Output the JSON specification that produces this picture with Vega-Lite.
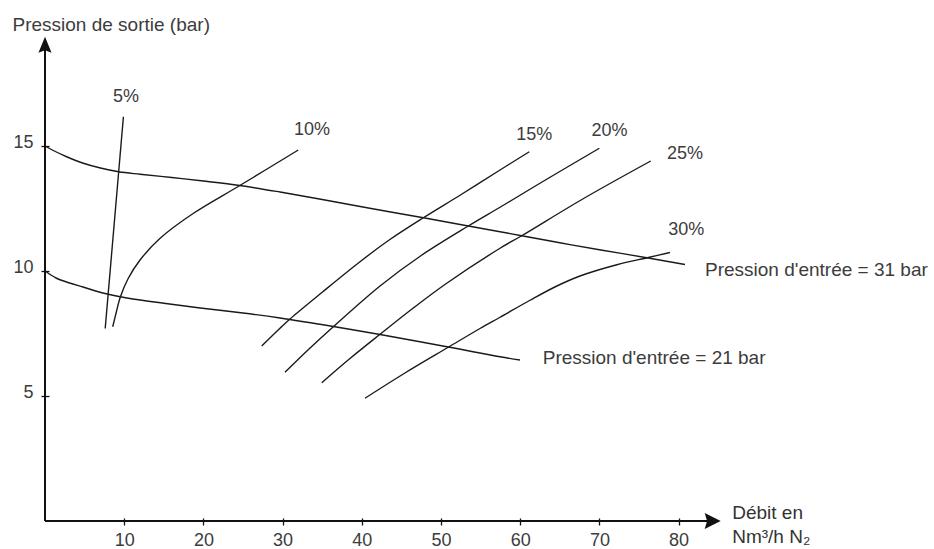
{
  "$schema": "https://vega.github.io/schema/vega-lite/v6.json",
  "width": 676,
  "height": 485,
  "autosize": {"type": "none"},
  "padding": {"left": 45, "top": 36, "right": 213, "bottom": 28},
  "background": "white",
  "config": {
    "view": {"stroke": null},
    "font": "Liberation Sans",
    "axis": {"grid": false}
  },
  "datasets": {
    "curves": [
      {"series": "31 bar", "x": 0, "y": 15.0},
      {"series": "31 bar", "x": 1.05, "y": 14.82},
      {"series": "31 bar", "x": 2.73, "y": 14.57},
      {"series": "31 bar", "x": 4.84, "y": 14.31},
      {"series": "31 bar", "x": 7, "y": 14.12},
      {"series": "31 bar", "x": 9.3, "y": 13.97},
      {"series": "31 bar", "x": 12, "y": 13.87},
      {"series": "31 bar", "x": 16, "y": 13.74},
      {"series": "31 bar", "x": 20, "y": 13.6},
      {"series": "31 bar", "x": 24.6, "y": 13.42},
      {"series": "31 bar", "x": 29.67, "y": 13.16},
      {"series": "31 bar", "x": 35, "y": 12.86},
      {"series": "31 bar", "x": 41, "y": 12.51},
      {"series": "31 bar", "x": 47.77, "y": 12.13},
      {"series": "31 bar", "x": 53.45, "y": 11.8},
      {"series": "31 bar", "x": 57.45, "y": 11.57},
      {"series": "31 bar", "x": 60.19, "y": 11.41},
      {"series": "31 bar", "x": 65, "y": 11.13},
      {"series": "31 bar", "x": 70, "y": 10.85},
      {"series": "31 bar", "x": 76.17, "y": 10.52},
      {"series": "31 bar", "x": 80.8, "y": 10.26},
      {"series": "21 bar", "x": 0, "y": 10.0},
      {"series": "21 bar", "x": 1.4, "y": 9.72},
      {"series": "21 bar", "x": 3.1, "y": 9.52},
      {"series": "21 bar", "x": 4.8, "y": 9.36},
      {"series": "21 bar", "x": 6.5, "y": 9.19},
      {"series": "21 bar", "x": 8, "y": 9.07},
      {"series": "21 bar", "x": 9.5, "y": 8.97},
      {"series": "21 bar", "x": 11.1, "y": 8.88},
      {"series": "21 bar", "x": 15, "y": 8.71},
      {"series": "21 bar", "x": 19.6, "y": 8.52},
      {"series": "21 bar", "x": 25, "y": 8.32},
      {"series": "21 bar", "x": 29.67, "y": 8.12},
      {"series": "21 bar", "x": 36.4, "y": 7.78},
      {"series": "21 bar", "x": 42.3, "y": 7.46},
      {"series": "21 bar", "x": 50.92, "y": 6.96},
      {"series": "21 bar", "x": 57.45, "y": 6.57},
      {"series": "21 bar", "x": 59.97, "y": 6.44},
      {"series": "5%", "x": 7.6, "y": 7.7},
      {"series": "5%", "x": 9.9, "y": 16.17},
      {"series": "10%", "x": 8.55, "y": 7.77},
      {"series": "10%", "x": 9.0, "y": 8.35},
      {"series": "10%", "x": 9.5, "y": 8.95},
      {"series": "10%", "x": 10.5, "y": 9.7},
      {"series": "10%", "x": 12.0, "y": 10.44},
      {"series": "10%", "x": 14.5, "y": 11.3},
      {"series": "10%", "x": 18.7, "y": 12.3},
      {"series": "10%", "x": 24.6, "y": 13.42},
      {"series": "10%", "x": 31.98, "y": 14.84},
      {"series": "15%", "x": 27.36, "y": 7.0},
      {"series": "15%", "x": 29.67, "y": 7.71},
      {"series": "15%", "x": 30.93, "y": 8.08},
      {"series": "15%", "x": 35, "y": 9.15},
      {"series": "15%", "x": 39.77, "y": 10.37},
      {"series": "15%", "x": 43.5, "y": 11.25},
      {"series": "15%", "x": 47.77, "y": 12.13},
      {"series": "15%", "x": 52.5, "y": 13.05},
      {"series": "15%", "x": 57.45, "y": 14.04},
      {"series": "15%", "x": 61.15, "y": 14.77},
      {"series": "20%", "x": 30.3, "y": 5.95},
      {"series": "20%", "x": 33.3, "y": 6.87},
      {"series": "20%", "x": 36.4, "y": 7.77},
      {"series": "20%", "x": 42.3, "y": 9.4},
      {"series": "20%", "x": 47.5, "y": 10.62},
      {"series": "20%", "x": 53.45, "y": 11.8},
      {"series": "20%", "x": 57.45, "y": 12.55},
      {"series": "20%", "x": 63.5, "y": 13.7},
      {"series": "20%", "x": 69.99, "y": 14.91},
      {"series": "25%", "x": 34.94, "y": 5.53},
      {"series": "25%", "x": 38.5, "y": 6.5},
      {"series": "25%", "x": 42.3, "y": 7.47},
      {"series": "25%", "x": 46.5, "y": 8.52},
      {"series": "25%", "x": 50.72, "y": 9.51},
      {"series": "25%", "x": 57.45, "y": 10.91},
      {"series": "25%", "x": 60.19, "y": 11.41},
      {"series": "25%", "x": 68, "y": 12.9},
      {"series": "25%", "x": 76.48, "y": 14.4},
      {"series": "30%", "x": 40.4, "y": 4.91},
      {"series": "30%", "x": 45.5, "y": 5.93},
      {"series": "30%", "x": 50.92, "y": 6.95},
      {"series": "30%", "x": 54.92, "y": 7.7},
      {"series": "30%", "x": 57.45, "y": 8.15},
      {"series": "30%", "x": 61.24, "y": 8.83},
      {"series": "30%", "x": 64.5, "y": 9.38},
      {"series": "30%", "x": 67.55, "y": 9.8},
      {"series": "30%", "x": 72.2, "y": 10.25},
      {"series": "30%", "x": 76.17, "y": 10.54},
      {"series": "30%", "x": 78.9, "y": 10.74}
    ],
    "axislines": [
      {"x": 0, "y": 0, "x2": 84.5, "y2": 0},
      {"x": 0, "y": 0, "x2": 0, "y2": 19.1}
    ],
    "arrows": [
      {"dir": "right", "x": 84.3, "y": 0},
      {"dir": "up", "x": 0, "y": 19.05}
    ],
    "pctlabels": [
      {"label": "5%", "x": 10.23, "y": 16.97},
      {"label": "10%", "x": 33.71, "y": 15.64},
      {"label": "15%", "x": 61.77, "y": 15.46},
      {"label": "20%", "x": 71.27, "y": 15.59},
      {"label": "25%", "x": 80.81, "y": 14.67},
      {"label": "30%", "x": 80.97, "y": 11.64}
    ],
    "presslabels": [
      {"label": "Pression d'entrée = 31 bar", "x": 83.33, "y": 10.04},
      {"label": "Pression d'entrée = 21 bar", "x": 62.84, "y": 6.51}
    ]
  },
  "layer": [
    {
      "data": {"name": "curves"},
      "mark": {"type": "line", "interpolate": "catmull-rom", "color": "#1a1a1a", "strokeWidth": 1.4},
      "encoding": {
        "x": {
          "field": "x", "type": "quantitative",
          "scale": {"domain": [0, 85.35], "nice": false, "zero": false},
          "axis": {
            "values": [10, 20, 30, 40, 50, 60, 70, 80],
            "domain": false,
            "offset": -3,
            "tickSize": 7,
            "tickColor": "#111111",
            "tickWidth": 1.3,
            "labelPadding": 6,
            "labelFontSize": 18,
            "labelColor": "#3c3c3c",
            "labelFont": "Liberation Sans",
            "title": ["Débit en", "Nm³/h N₂"],
            "titleFont": "Liberation Sans",
            "titleFontSize": 19,
            "titleFontWeight": "normal",
            "titleColor": "#333333",
            "titleAngle": 0,
            "titleAlign": "left",
            "titleBaseline": "alphabetic",
            "titleLineHeight": 24,
            "titleX": 686.7,
            "titleY": 0.6
          }
        },
        "y": {
          "field": "y", "type": "quantitative",
          "scale": {"domain": [0, 19.4], "nice": false, "zero": false},
          "axis": {
            "values": [5, 10, 15],
            "domain": false,
            "offset": -4,
            "tickSize": 8,
            "tickColor": "#111111",
            "tickWidth": 1.3,
            "labelPadding": 8,
            "labelFontSize": 18,
            "labelColor": "#3c3c3c",
            "labelFont": "Liberation Sans",
            "labelBaseline": "middle",
            "labelOffset": -4,
            "title": "Pression de sortie (bar)",
            "titleFont": "Liberation Sans",
            "titleFontSize": 19,
            "titleFontWeight": "normal",
            "titleColor": "#3c3c3c",
            "titleAngle": 0,
            "titleAlign": "left",
            "titleBaseline": "alphabetic",
            "titleX": -37,
            "titleY": -6
          }
        },
        "detail": {"field": "series", "type": "nominal"}
      }
    },
    {
      "data": {"name": "axislines"},
      "mark": {"type": "rule", "color": "#111111", "strokeWidth": 2},
      "encoding": {
        "x": {"field": "x", "type": "quantitative"},
        "y": {"field": "y", "type": "quantitative"},
        "x2": {"field": "x2"},
        "y2": {"field": "y2"}
      }
    },
    {
      "data": {"name": "arrows"},
      "mark": {"type": "point", "filled": true, "size": 256, "color": "#111111", "opacity": 1, "strokeWidth": 0},
      "encoding": {
        "x": {"field": "x", "type": "quantitative"},
        "y": {"field": "y", "type": "quantitative"},
        "shape": {
          "field": "dir", "type": "nominal", "legend": null,
          "scale": {"domain": ["right", "up"], "range": ["M-1,-1L1,0L-1,1L-0.7,0Z", "M-0.82,1L0,-1L0.82,1L0,0.7Z"]}
        }
      }
    },
    {
      "data": {"name": "pctlabels"},
      "mark": {"type": "text", "fontSize": 18, "color": "#3c3c3c", "align": "center", "baseline": "middle", "font": "Liberation Sans"},
      "encoding": {
        "x": {"field": "x", "type": "quantitative"},
        "y": {"field": "y", "type": "quantitative"},
        "text": {"field": "label"}
      }
    },
    {
      "data": {"name": "presslabels"},
      "mark": {"type": "text", "fontSize": 19, "color": "#3c3c3c", "align": "left", "baseline": "middle", "font": "Liberation Sans"},
      "encoding": {
        "x": {"field": "x", "type": "quantitative"},
        "y": {"field": "y", "type": "quantitative"},
        "text": {"field": "label"}
      }
    }
  ]
}
